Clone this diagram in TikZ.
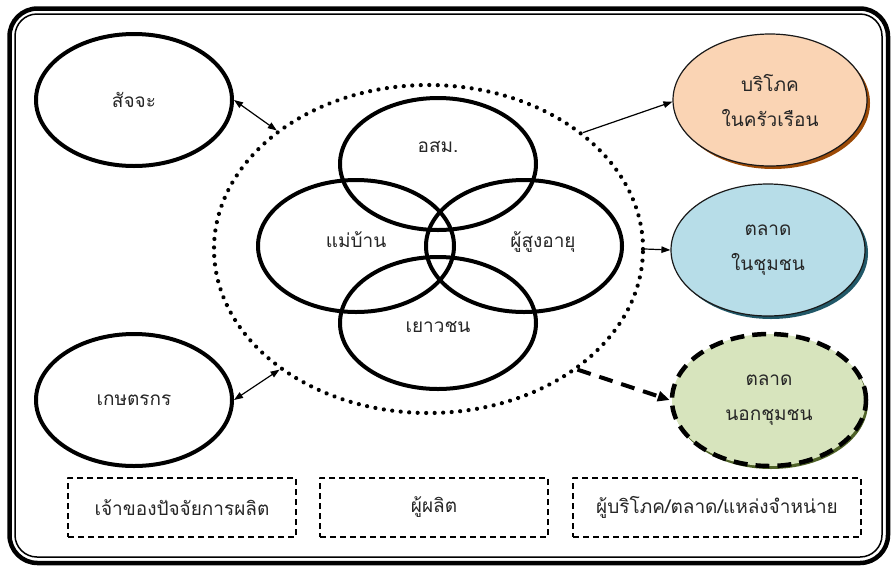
\documentclass[tikz,border=0pt]{standalone}
\usepackage{fontspec}
\newfontfamily\thaifont[Script=Thai]{Loma}
\usetikzlibrary{arrows.meta,shapes.geometric,shadows}
\definecolor{peachfill}{HTML}{FAD4B4}
\definecolor{peachshade}{HTML}{9C4A06}
\definecolor{bluefill}{HTML}{B7DDE8}
\definecolor{blueshade}{HTML}{215868}
\definecolor{greenfill}{HTML}{D7E4BD}
\definecolor{greenshade}{HTML}{4F6228}

\begin{document}
\begin{tikzpicture}[x=1pt,y=-1pt,line join=round,
    >={Triangle[length=9pt,width=6.5pt]},
    every node/.style={font=\thaifont\fontsize{19}{35}\selectfont,text=black!85},
    blob/.style={ellipse,draw,line width=4pt,minimum width=196pt,minimum height=132pt,inner sep=0pt},
    market/.style={ellipse,draw=black!90,line width=1.2pt,minimum width=194pt,minimum height=132pt,inner sep=0pt,align=center},
    rolebox/.style={draw,line width=1.2pt,dash pattern=on 6pt off 4pt,minimum height=59pt,inner sep=0pt}]
    \useasboundingbox (0,0) rectangle (891,566);
    % frame
    \draw[line width=4.5pt,rounded corners=28pt] (9.5,8.5) rectangle (888,563);
    \draw[line width=1.5pt,rounded corners=22pt] (15,14) rectangle (882,557);
    % producers
    \node[ellipse,draw,line width=4.2pt,line cap=round,dash pattern=on 0.01pt off 8.5pt,
        minimum width=429pt,minimum height=328pt] (hub) at (428.5,249) {};
    \node[blob] (asm) at (438,164) {};
    \node[blob] (maid) at (356,246) {};
    \node[blob] (elder) at (524,246) {};
    \node[blob] (youth) at (438,323) {};
    \node (asm-t) at ([yshift=17pt]asm.center) {อสม.};
    \node (maid-t) at ([yshift=6pt]maid.center) {แม่บ้าน};
    \node (elder-t) at ([xshift=19pt,yshift=4pt]elder.center) {ผู้สูงอายุ};
    \node (youth-t) at ([yshift=-4pt]youth.center) {เยาวชน};
    % owners
    \node[blob] (sajja) at (134,100) {สัจจะ};
    \node[blob] (farmer) at (134,400) {เกษตรกร};
    % markets
    \node[market,fill=peachfill,drop shadow={shadow xshift=3pt,shadow yshift=-3pt,fill=peachshade,opacity=1}]
        (consume) at (770,100) {บริโภค\\ในครัวเรือน};
    \node[market,fill=bluefill,drop shadow={shadow xshift=3pt,shadow yshift=-3pt,fill=blueshade,opacity=1}]
        (inside) at (768,250) {ตลาด\\ในชุมชน};
    \node[market,fill=greenfill,draw=black,line width=4.5pt,dash pattern=on 14pt off 8pt,
        drop shadow={shadow xshift=2pt,shadow yshift=-3pt,fill=greenshade,opacity=1}]
        (outside) at (769,400) {ตลาด\\นอกชุมชน};
    % links
    \draw[<->,line width=1.2pt] (sajja.east) -- (hub.142);
    \draw[<->,line width=1.2pt] (farmer.east) -- (hub.219);
    \draw[->,line width=1.2pt] (hub.37) -- (consume.181);
    \draw[->,line width=1.2pt] (hub.east) -- (inside.west);
    \draw[-{Triangle[length=12pt,width=10pt]},line width=4pt,dash pattern=on 14pt off 9pt]
        (hub.-39) -- (outside.west);
    % roles
    \node[rolebox,minimum width=228pt] (owners) at (182,507.5) {เจ้าของปัจจัยการผลิต};
    \node[rolebox,minimum width=228pt] (makers) at (434,507.5) {ผู้ผลิต};
    \node[rolebox,minimum width=288pt] (sellers) at (717,507.5) {ผู้บริโภค/ตลาด/แหล่งจำหน่าย};
\end{tikzpicture}
\end{document}
